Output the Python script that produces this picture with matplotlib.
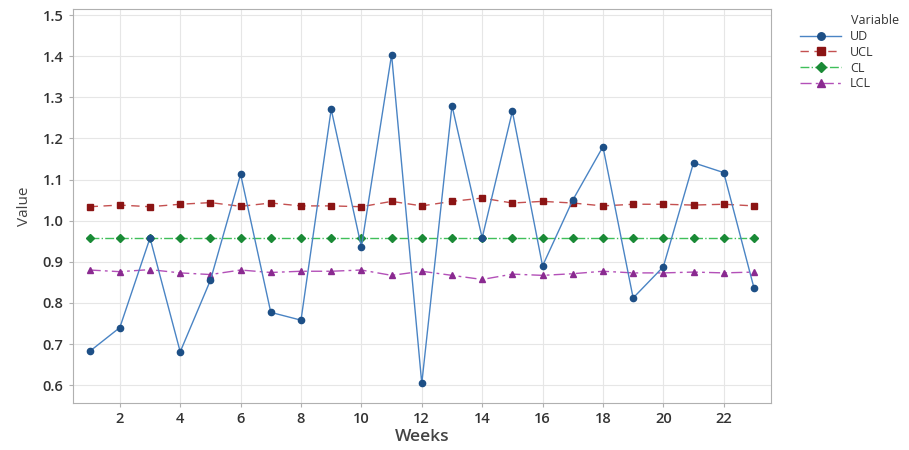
import numpy as np
import matplotlib.pyplot as plt

plt.rcParams['font.family'] = ['Open Sans', 'DejaVu Sans']

weeks = np.arange(1, 24)
ud = [0.682, 0.740, 0.958, 0.681, 0.855, 1.113, 0.777, 0.758, 1.271, 0.936,
      1.404, 0.604, 1.280, 0.958, 1.266, 0.890, 1.050, 1.180, 0.812, 0.888,
      1.141, 1.117, 0.837]
ucl = [1.034, 1.038, 1.034, 1.040, 1.044, 1.035, 1.043, 1.036, 1.036, 1.034,
       1.047, 1.036, 1.047, 1.055, 1.043, 1.047, 1.043, 1.036, 1.040, 1.040,
       1.038, 1.040, 1.036]
cl = [0.957] * 23
lcl = [0.880, 0.876, 0.881, 0.873, 0.869, 0.880, 0.874, 0.877, 0.877, 0.880,
       0.867, 0.877, 0.867, 0.857, 0.870, 0.867, 0.871, 0.877, 0.873, 0.873,
       0.875, 0.873, 0.875]

fig = plt.figure(figsize=(9.09, 4.5), dpi=100)
ax = fig.add_axes([0.080, 0.104, 0.768, 0.876])

ax.plot(weeks, ud, '-', color='#4a84c4', lw=1.0, marker='o', ms=4.5,
        mfc='#1d4f86', mec='#1d4f86', label='UD', zorder=5)
ax.plot(weeks, ucl, '--', color='#c45050', lw=1.0, dashes=(6, 4), marker='s', ms=4.5,
        mfc='#8b1414', mec='#8b1414', label='UCL', zorder=4)
ax.plot(weeks, cl, '-.', color='#3fbf5a', lw=1.0, marker='D', ms=4,
        mfc='#1a8a36', mec='#1a8a36', label='CL', zorder=3)
ax.plot(weeks, lcl, '-.', color='#b350b8', lw=1.0, dashes=(8, 3, 2, 3), marker='^', ms=5,
        mfc='#8a2a90', mec='#8a2a90', label='LCL', zorder=4)

ax.set_xlim(0.44, 23.56)
ax.set_ylim(0.556, 1.515)
ax.set_xticks(np.arange(2, 23, 2))
ax.set_yticks(np.arange(0.6, 1.51, 0.1))
ax.yaxis.set_major_formatter(plt.FuncFormatter(lambda v, p: f'{v:.1f}'))
ax.grid(True, color='#e6e6e6', lw=0.8)
ax.set_axisbelow(True)
for s in ax.spines.values():
    s.set_color('#b0b0b0')
ax.tick_params(colors='#b0b0b0', labelcolor='#333333', labelsize=10.5, length=3)
for t in ax.get_xticklabels() + ax.get_yticklabels():
    t.set_fontweight('semibold')

ax.set_xlabel('Weeks', fontsize=12.5, color='#444444', fontweight='semibold', labelpad=2)
ax.set_ylabel('Value', fontsize=11, color='#444444', labelpad=8)

fig.text(851 / 909, 1 - 21 / 450, 'Variable', fontsize=9, color='#333333',
         ha='left', va='center')
leg = fig.legend(loc='upper left', bbox_to_anchor=(800 / 909, 1 - 30 / 450), frameon=False,
                 fontsize=9, handlelength=3.3, handletextpad=0.7, borderpad=0,
                 labelspacing=0.22, borderaxespad=0, markerscale=1.2)
for t in leg.get_texts():
    t.set_color('#333333')

fig.savefig('out.png', dpi=100)
